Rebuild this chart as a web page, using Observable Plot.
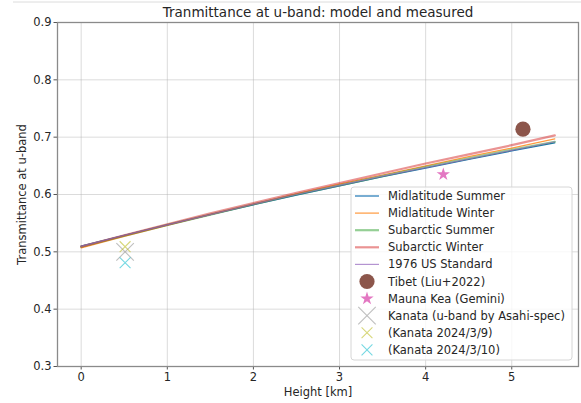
<!DOCTYPE html>
<html>
<head>
<meta charset="utf-8">
<script src="https://cdn.jsdelivr.net/npm/d3@7"></script>
<script src="https://cdn.jsdelivr.net/npm/@observablehq/plot@0.6"></script>
<style>
  html, body { margin: 0; padding: 0; background: #fff; }
  #chart svg { display: block; }
</style>
</head>
<body>
<div id="chart"></div>
<script>
// ---- data ----
const heights = [0, 0.5, 1, 1.5, 2, 2.5, 3, 3.5, 4, 4.5, 5, 5.5];
const midlatitudeSummer = [0.510, 0.529, 0.547, 0.565, 0.582, 0.599, 0.615, 0.631, 0.646, 0.661, 0.676, 0.690];
const midlatitudeWinter = [0.507, 0.527, 0.546, 0.565, 0.583, 0.601, 0.618, 0.634, 0.650, 0.666, 0.681, 0.697];
const subarcticSummer   = [0.509, 0.528, 0.547, 0.565, 0.583, 0.600, 0.616, 0.632, 0.648, 0.663, 0.678, 0.692];
const subarcticWinter   = [0.509, 0.529, 0.548, 0.567, 0.585, 0.603, 0.620, 0.637, 0.654, 0.670, 0.686, 0.703];
const usStandard1976    = [0.510, 0.529, 0.547, 0.565, 0.583, 0.600, 0.616, 0.632, 0.647, 0.662, 0.677, 0.692];

const seriesNames = ["Midlatitude Summer", "Midlatitude Winter", "Subarctic Summer", "Subarctic Winter", "1976 US Standard"];
const seriesValues = [midlatitudeSummer, midlatitudeWinter, subarcticSummer, subarcticWinter, usStandard1976];

const measuredNames = ["Tibet (Liu+2022)", "Mauna Kea (Gemini)", "Kanata (u-band by Asahi-spec)", "(Kanata 2024/3/9)", "(Kanata 2024/3/10)"];
const measuredHeight = [5.13, 4.205, 0.51, 0.51, 0.51];
const measuredValue  = [0.714, 0.635, 0.500, 0.509, 0.481];

const xTicks = [0, 1, 2, 3, 4, 5];
const yTicks = [0.3, 0.4, 0.5, 0.6, 0.7, 0.8, 0.9];

// ---- styles ----
const lineStyles = [
  {stroke: "#1f77b4", width: 1.2, opacity: 1},
  {stroke: "#ff7f0e", width: 1.2, opacity: 0.8},
  {stroke: "#2ca02c", width: 2.2, opacity: 0.5},
  {stroke: "#d62728", width: 2.2, opacity: 0.5},
  {stroke: "#9467bd", width: 1.2, opacity: 0.7}
];
const markStyles = [
  {symbol: "circle", r: 7.6, fill: "#8c564b", stroke: "none", opacity: 1},
  {symbol: "star", r: 4.2, fill: "#e377c2", stroke: "none", opacity: 1},
  {symbol: "times", r: 8, fill: "none", stroke: "#7f7f7f", opacity: 0.5},
  {symbol: "times", r: 5, fill: "none", stroke: "#bcbd22", opacity: 0.6},
  {symbol: "times", r: 5, fill: "none", stroke: "#17becf", opacity: 0.6}
];

const lineRows = seriesNames.flatMap((name, i) =>
  heights.map((h, j) => ({series: name, idx: i, h, t: seriesValues[i][j]})));
const pointRows = measuredNames.map((name, i) => ({name, idx: i, h: measuredHeight[i], t: measuredValue[i]}));

const font = "DejaVu Sans, sans-serif";
const textColor = "#262626";

const marks = [
  Plot.gridX(xTicks, {stroke: "#b0b0b0", strokeOpacity: 0.45, strokeWidth: 1}),
  Plot.gridY(yTicks, {stroke: "#b0b0b0", strokeOpacity: 0.45, strokeWidth: 1}),
  Plot.axisX(xTicks, {tickSize: 3.5, tickPadding: 3, fontSize: 11.5, label: null, stroke: "#555", fill: textColor}),
  Plot.axisY(yTicks, {tickSize: 3.5, tickPadding: 2.5, fontSize: 11.5, label: null, tickFormat: d3.format(".1f"), stroke: "#555", fill: textColor}),
];
seriesNames.forEach((name, i) => {
  marks.push(Plot.line(lineRows.filter(d => d.idx === i), {
    x: "h", y: "t", stroke: lineStyles[i].stroke, strokeWidth: lineStyles[i].width, strokeOpacity: lineStyles[i].opacity
  }));
});
measuredNames.forEach((name, i) => {
  const s = markStyles[i];
  marks.push(Plot.dot(pointRows.filter(d => d.idx === i), {
    x: "h", y: "t", symbol: s.symbol, r: s.r, fill: s.fill, stroke: s.stroke,
    strokeWidth: 1.1, fillOpacity: s.opacity, strokeOpacity: s.opacity
  }));
});
marks.push(Plot.frame({stroke: "#8a8a8a", strokeWidth: 1.3}));
marks.push(Plot.text(["Tranmittance at u-band: model and measured"], {frameAnchor: "top", lineAnchor: "middle", textAnchor: "middle", dy: -9.5, fontSize: 13.5, fill: textColor}));
marks.push(Plot.text(["Height [km]"], {frameAnchor: "bottom", lineAnchor: "middle", textAnchor: "middle", dy: 26, fontSize: 11.5, fill: textColor}));
marks.push(Plot.text(["Transmittance at u-band"], {frameAnchor: "left", lineAnchor: "middle", textAnchor: "middle", dx: -35, rotate: -90, fontSize: 11.5, fill: textColor}));

const chart = Plot.plot({
  width: 581, height: 403,
  marginLeft: 57, marginRight: 3, marginTop: 22, marginBottom: 37,
  style: {fontFamily: font, background: "#fff", overflow: "visible"},
  x: {domain: [-0.275, 5.775]},
  y: {domain: [0.3, 0.9]},
  marks
});
document.getElementById("chart").appendChild(chart);

// ---- legend ----
const svg = d3.select(chart);
// faint top border line of the screenshot
svg.append("line").attr("x1", 13).attr("x2", 581).attr("y1", 2).attr("y2", 2)
  .attr("stroke", "#dcdcdc").attr("stroke-width", 1);

const lg = svg.append("g").attr("font-family", font).attr("font-size", 11.5).attr("text-anchor", "start");
const lx = 351, ly = 187, lw = 221, lh = 173;
lg.append("rect").attr("x", lx).attr("y", ly).attr("width", lw).attr("height", lh)
  .attr("rx", 3).attr("fill", "#ffffff").attr("fill-opacity", 0.8).attr("stroke", "#d6d6d6").attr("stroke-width", 1);
const allNames = seriesNames.concat(measuredNames);
const rowY = i => 196 + i * 17.1;
allNames.forEach((name, i) => {
  const y = rowY(i);
  if (i < seriesNames.length) {
    const s = lineStyles[i];
    lg.append("line").attr("x1", 355).attr("x2", 379).attr("y1", y).attr("y2", y)
      .attr("stroke", s.stroke).attr("stroke-width", s.width).attr("stroke-opacity", s.opacity);
  } else {
    const s = markStyles[i - seriesNames.length];
    const cx = 367;
    if (s.symbol === "circle") {
      lg.append("circle").attr("cx", cx).attr("cy", y).attr("r", s.r).attr("fill", s.fill);
    } else if (s.symbol === "star") {
      lg.append("path").attr("transform", `translate(${cx},${y})`)
        .attr("d", d3.symbol(d3.symbolStar, Math.PI * s.r * s.r)()).attr("fill", s.fill);
    } else {
      lg.append("path").attr("transform", `translate(${cx},${y})`)
        .attr("d", d3.symbol(d3.symbolTimes, Math.PI * s.r * s.r)())
        .attr("fill", "none").attr("stroke", s.stroke).attr("stroke-width", 1.1).attr("stroke-opacity", s.opacity);
    }
  }
  lg.append("text").attr("x", 388).attr("y", y).attr("dy", "0.35em").attr("fill", textColor).text(name);
});
</script>
</body>
</html>
